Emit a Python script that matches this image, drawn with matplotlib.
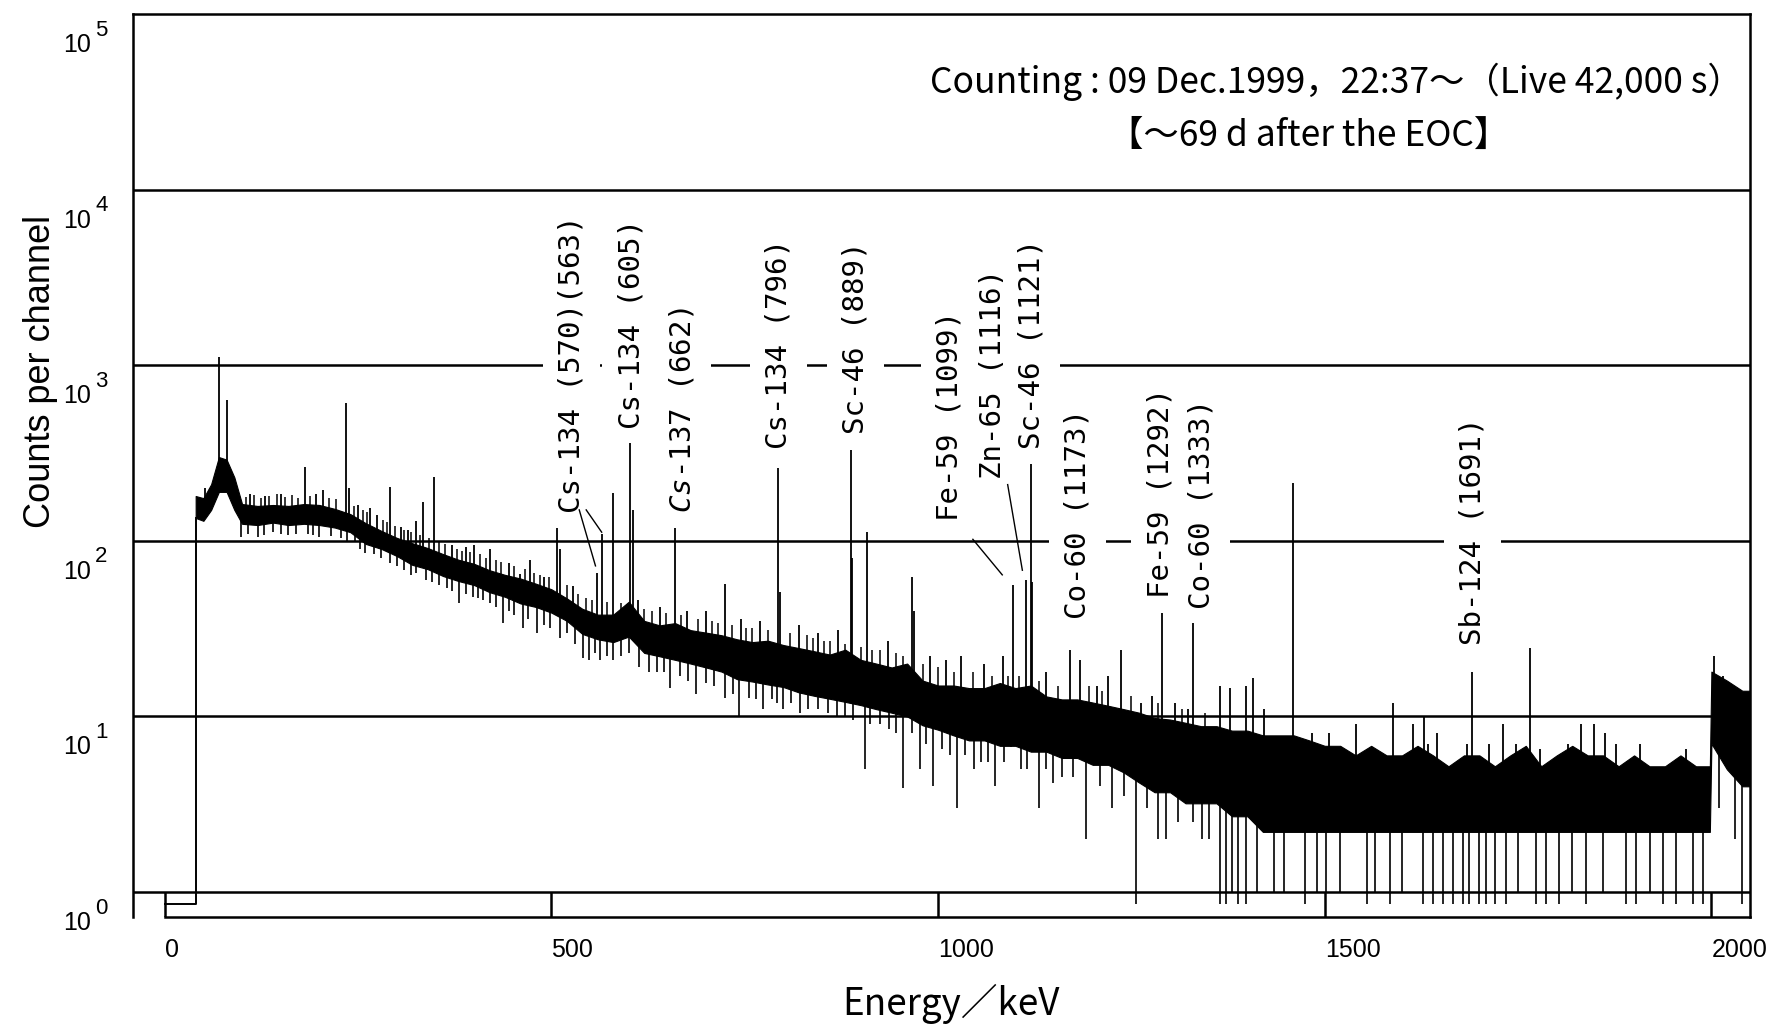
# gamma_spectrum.py

import numpy as np
from matplotlib import pyplot as plt
from matplotlib.transforms import ScaledTranslation, blended_transform_factory

# continuum of the spectrum (lower and upper edge of the noise), counts per channel
env_e = [40, 50, 60, 70, 80, 90, 100, 120, 140, 160, 180, 200, 220, 240, 260,
         280, 300, 320, 340, 360, 380, 400, 420, 440, 460, 480, 500, 520, 540,
         560, 580, 600, 620, 640, 660, 680, 700, 720, 740, 760, 780, 800, 820,
         840, 860, 880, 900, 920, 940, 960, 980, 1000, 1020, 1040, 1060, 1080,
         1100, 1120, 1140, 1160, 1180, 1200, 1220, 1240, 1260, 1280, 1300,
         1320, 1340, 1360, 1380, 1400, 1420, 1440, 1460, 1480, 1500, 1520,
         1540, 1560, 1580, 1600, 1620, 1640, 1660, 1680, 1700, 1720, 1740,
         1760, 1780, 1800, 1820, 1840, 1860, 1880, 1900, 1920, 1940, 1960,
         1980, 1998, 2000, 2020, 2040]
env_hi = [180, 175, 210, 300, 290, 230, 162, 158, 160, 158, 162, 160, 152, 142,
          126, 114, 104, 97, 91, 84, 78, 74, 68, 64, 61, 57, 53, 47, 41,
          38, 38, 45, 35, 33, 34, 31, 30, 29, 27.5, 26.5, 27, 25.5, 24.5,
          23.5, 22.5, 24, 21, 20, 19, 20, 16, 15, 15, 14.5, 14.5, 15.5,
          14.5, 15, 13, 12.5, 12.5, 12, 11.5, 11, 10.5, 9.8, 9.6,
          9.2, 8.8, 8.8, 8.3, 8.3, 7.8, 7.8, 7.8, 7.3, 6.8, 6.8,
          6, 6.8, 6, 6, 6.8, 6, 5.2, 6, 6, 5.2, 6,
          6.8, 5.2, 6, 6.8, 6, 6, 5.2, 6, 5.2, 5.2, 6,
          5.2, 5.2, 18, 16, 14]
env_lo = [135, 130, 150, 190, 190, 150, 125, 123, 127, 123, 125, 123, 119, 112,
          96, 90, 82, 73, 69, 63, 59, 56, 51, 48, 44, 42, 39, 35, 29.5,
          27.5, 26.5, 28.5, 23, 22, 21, 20, 19, 18, 16.3, 15.8, 15.2, 14.7,
          13.7, 13.1, 12.6, 12.1, 11.6, 11, 10.5, 10, 8.9, 8.4, 7.8, 7.3,
          7.3, 6.8, 6.8, 6.3, 6.3, 5.8, 5.8, 5.3, 5.3, 4.8, 4.2, 3.7,
          3.7, 3.2, 3.2, 3.2, 2.7, 2.7, 2.2, 2.2, 2.2, 2.2, 2.2, 2.2,
          2.2, 2.2, 2.2, 2.2, 2.2, 2.2, 2.2, 2.2, 2.2, 2.2, 2.2,
          2.2, 2.2, 2.2, 2.2, 2.2, 2.2, 2.2, 2.2, 2.2, 2.2, 2.2,
          2.2, 2.2, 7, 5, 4]
threshold_e = 40
end_e = 2050

# photo peaks and single-channel spikes above the continuum
peak_e = [52, 70, 81, 86, 110, 130, 150, 181, 195, 205, 234, 238, 250, 266,
          275, 291, 305, 315, 325, 334, 348, 372, 390, 400, 420, 445, 460, 472,
          490, 507, 511, 528, 559, 566, 580, 602, 605, 612, 640, 660, 675, 700,
          724, 745, 770, 793, 796, 820, 845, 870, 887, 889, 908, 935, 966, 969,
          990, 1010, 1030, 1060, 1084, 1097, 1114, 1120, 1122, 1140, 1170,
          1183, 1205, 1220, 1237, 1263, 1276, 1290, 1306, 1323, 1330, 1364,
          1377, 1398, 1407, 1422, 1459, 1484, 1506, 1540, 1570, 1588, 1614,
          1629, 1634, 1645, 1684, 1691, 1712, 1730, 1747, 1766, 1779, 1814,
          1831, 1848, 1863, 1876, 1908, 1967, 2003, 2015]
peak_top = [200, 1120, 630, 235, 185, 180, 185, 263, 185, 196, 610, 200, 160, 153,
            140, 203, 120, 115, 130, 166, 230, 95, 92, 95, 90, 75, 65, 78,
            62, 194, 90, 55, 66, 110, 187, 375, 150, 46, 42, 120, 40, 40,
            57, 36, 35, 259, 51, 33, 30, 31, 330, 80, 112, 27, 62, 40,
            22, 21, 22, 20, 22, 56, 60, 280, 58, 18, 24,
            21, 15, 17, 24, 12, 13, 39, 12, 11, 35, 15,
            14.5, 15, 16.5, 11, 213, 8, 8, 9, 6, 12, 9,
            10, 7, 8, 7, 18, 7, 9, 7, 24.5, 6.5, 7,
            9, 9, 8, 7, 7, 6.5, 22, 17]

# small upward noise spikes
up_e = [105, 115, 125, 135, 145, 155, 165, 172, 188, 212, 222, 245, 256, 262,
        282, 288, 298, 310, 318, 330, 342, 355, 362, 378, 385, 395, 408, 415,
        428, 435, 452, 466, 478, 485, 497, 520, 535, 545, 552, 572, 590, 620,
        630, 648, 668, 690, 708, 715, 733, 752, 760, 780, 808, 830, 838, 852,
        860, 880, 900, 915, 925, 945, 955, 980, 1000, 1020, 1045, 1070, 1090,
        1105, 1130, 1155, 1195, 1212, 1250, 1285, 1315, 1345]
up_top = [178, 182, 176, 180, 184, 178, 182, 176, 180, 176, 172, 158, 150, 145,
          132, 128, 122, 115, 112, 108, 104, 98, 96, 90, 88, 86, 84, 80,
          78, 76, 72, 69, 66, 64, 62, 56, 50, 47, 46, 45, 44, 41,
          40, 39, 38, 36, 35, 34, 33, 32, 32, 31, 30, 29, 28, 27,
          27, 26, 25, 24, 24, 23, 22, 20, 19, 18, 18, 17, 17,
          17, 16, 15, 15, 14, 13, 12, 11, 10.5]

# downward fluctuations (0 = empty channel)
dip_e = [99, 108, 121, 128, 140, 150, 160, 170, 185, 192, 200, 215, 228, 236,
         246, 253, 259, 270, 280, 291, 300, 310, 318, 325, 338, 345, 355, 365,
         372, 381, 390, 398, 405, 411, 420, 428, 437, 445, 452, 463, 470, 482,
         490, 498, 511, 520, 530, 541, 549, 556, 563, 572, 580, 590, 600, 613,
         626, 636, 645, 653, 666, 677, 687, 700, 710, 724, 735, 743, 756, 765,
         774, 785, 792, 800, 810, 822, 832, 845, 858, 869, 880, 890, 905, 912,
         925, 936, 946, 955, 966, 977, 985, 994, 1005, 1015, 1024, 1035, 1046,
         1055, 1065, 1073, 1085, 1094, 1107, 1115, 1131, 1140, 1148, 1160,
         1175, 1191, 1210, 1225, 1240, 1256, 1270, 1284, 1295, 1310, 1330,
         1341, 1350, 1364, 1372, 1380, 1388, 1398, 1412, 1434, 1447, 1475,
         1490, 1501, 1520, 1555, 1565, 1585, 1600, 1627, 1640, 1653, 1666,
         1679, 1687, 1700, 1709, 1720, 1735, 1750, 1773, 1786, 1803, 1820,
         1838, 1860, 1890, 1903, 1920, 1937, 1954, 1976, 1989, 2010, 2030, 2039]
dip_bottom = [105, 110, 105, 108, 112, 110, 108, 109, 110, 108, 105, 106, 104, 100,
              100, 90, 85, 84, 80, 75, 72, 68, 64, 66, 60, 58, 56, 54,
              52, 44, 50, 48, 47, 46, 44, 42, 34, 40, 38, 32, 36, 30,
              33, 32, 28, 30, 26, 21.5, 21, 23, 21, 22, 21, 22, 23, 19,
              18, 18, 18, 14.5, 17, 16, 13.5, 15.5, 15, 12.7, 13.5, 10, 12.8, 12.5,
              11, 12.5, 12, 11, 12, 10.5, 11, 11, 10.5, 10, 10, 9.5, 5, 9,
              9, 8.5, 8, 3.9, 8, 5, 7, 4, 6.5, 6, 3, 6, 5,
              5.5, 5.5, 4, 5.5, 6.7, 5, 5, 3, 5, 4.2, 4.5,
              4.5, 2, 4, 3, 3.5, 0, 3, 2, 2, 2.5, 2.5,
              2, 2, 0, 0, 1, 0, 0, 1, 1, 1, 0,
              1, 1, 1, 0, 1, 0, 1, 0, 0, 0, 0,
              0, 0, 0, 0, 0, 0, 1, 0, 0, 0, 1,
              0, 1, 0, 0, 1, 0, 0, 0, 0, 3, 2, 0]

nuclide_labels = ["Cs-134 (570)(563)", "Cs-134 (605)",
                  r"$\mathit{Cs}$-$\mathit{137}$ (662)",
                  "Cs-134 (796)", "Sc-46 (889)", "Fe-59 (1099)",
                  "Zn-65 (1116)", "Sc-46 (1121)", "Co-60 (1173)",
                  "Fe-59 (1292)", "Co-60 (1333)", "Sb-124 (1691)"]
label_e = [526, 603, 669, 794, 893, 1015, 1070, 1121, 1180, 1287, 1340, 1691]
label_base = [144, 434, 144, 333, 407, 129, 226, 333, 36, 47, 41, 25.5]

# leader lines (energy, counts) -> (energy, counts)
leaders = [((536, 150), (557, 72)),
           ((545, 150), (565, 112)),
           ((1045, 102), (1083, 64)),
           ((1090, 209), (1109, 68))]

decades = [0, 1, 2, 3, 4, 5]
x_ticks = [0, 500, 1000, 1500, 2000]

ZERO_LEVEL = 0.85    # where an empty channel is drawn
Y_BOTTOM = 0.721


def plotted(counts):
    counts = np.asarray(counts, dtype=float)
    return np.where(counts <= 0, ZERO_LEVEL, counts)


def main():
    plt.rcParams['mathtext.fontset'] = 'custom'
    plt.rcParams['mathtext.it'] = 'DejaVu Sans Mono:italic'
    plt.rcParams['mathtext.rm'] = 'DejaVu Sans Mono'

    fig = plt.figure(figsize=(17.69, 10.25), dpi=100)
    ax = fig.add_axes([0.0752, 0.1054, 0.9141, 0.8809])
    ax.set_yscale('log')
    ax.set_xlim(-41, end_e)
    ax.set_ylim(Y_BOTTOM, 1e5)
    ax.set_xticks([])
    ax.set_yticks([])
    ax.minorticks_off()
    for side in ['left', 'right', 'top']:
        ax.spines[side].set_linewidth(1.8)
    ax.spines['bottom'].set_visible(False)
    ax.plot([0, end_e], [Y_BOTTOM, Y_BOTTOM], color='black', lw=1.8,
            clip_on=False, zorder=5)

    for d in decades[:-1]:
        ax.axhline(10.0 ** d, color='black', lw=1.8, zorder=1)
    ax.vlines(x_ticks, Y_BOTTOM, 1.0, color='black', lw=1.8, zorder=1)

    # spectrum
    e_edges = np.append(env_e, end_e)
    hi = np.append(env_hi, env_hi[-1])
    lo = np.append(env_lo, env_lo[-1])
    ax.fill_between(e_edges, lo, hi, color='black', lw=0.8,
                    edgecolor='black', zorder=2)
    ax.plot([0, threshold_e, threshold_e], [ZERO_LEVEL, ZERO_LEVEL, env_lo[0]],
            color='black', lw=1.4, zorder=2)

    base_hi = np.interp(peak_e, env_e, env_hi)
    ax.vlines(peak_e, base_hi * 0.9, peak_top, color='black', lw=1.3, zorder=2)
    base_up = np.interp(up_e, env_e, env_hi)
    ax.vlines(up_e, base_up * 0.9, up_top, color='black', lw=1.1, zorder=2)
    base_lo = np.interp(dip_e, env_e, env_lo)
    ax.vlines(dip_e, plotted(dip_bottom), base_lo * 1.05, color='black',
              lw=1.2, zorder=2)

    # nuclide labels
    for text, e, c in zip(nuclide_labels, label_e, label_base):
        ax.text(e, c, text, rotation=90, ha='center', va='bottom',
                family='DejaVu Sans Mono', fontsize=21, zorder=3,
                bbox=dict(boxstyle='square,pad=0.5', fc='white', ec='none'))
    for (e0, c0), (e1, c1) in leaders:
        ax.plot([e0, e1], [c0, c1], color='black', lw=1.0, zorder=4)

    # counting conditions
    cjk = ['Noto Sans CJK JP', 'DejaVu Sans']
    ax.text(0.744, 0.9247,
            "Counting : 09 Dec.1999，22:37～（Live 42,000 s）",
            transform=ax.transAxes, ha='center', va='center', fontsize=25.5,
            family=cjk)
    ax.text(0.727, 0.865, "【～69 d after the EOC】",
            transform=ax.transAxes, ha='center', va='center', fontsize=25.5,
            family=cjk)

    # axis tick labels
    xtrans = blended_transform_factory(ax.transData, ax.transAxes)
    for t in x_ticks:
        ax.text(t, -0.0365, str(t), transform=xtrans, ha='left',
                va='center', fontsize=18, family='Liberation Sans')
    ytrans = blended_transform_factory(ax.transAxes, ax.transData)
    base_off = ScaledTranslation(0, -0.31, fig.dpi_scale_trans)
    exp_off = ScaledTranslation(0, -0.16, fig.dpi_scale_trans)
    for d in decades:
        ax.text(-0.026, 10.0 ** d, "10", transform=ytrans + base_off,
                ha='right', va='center', fontsize=18, family='Liberation Sans')
        ax.text(-0.0235, 10.0 ** d, str(d), transform=ytrans + exp_off,
                ha='left', va='center', fontsize=16, family='Liberation Sans')

    fig.text(40 / 1769, 1 - 372 / 1025, "Counts per channel", rotation=90,
             ha='center', va='center', fontsize=26, family='Liberation Sans')
    fig.text(951 / 1769, 1 - 1004 / 1025, "Energy／keV", ha='center',
             va='center', fontsize=26.5, family=cjk)

    plt.savefig("out.png", dpi=100)


if __name__ == "__main__":
    main()
